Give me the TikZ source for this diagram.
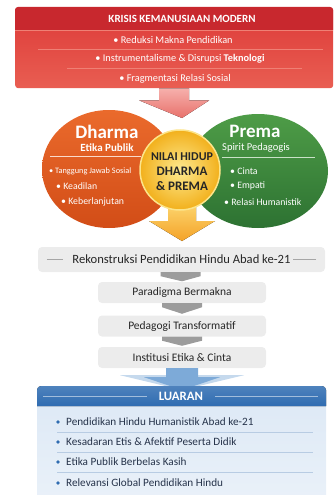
\documentclass[tikz,border=0pt]{standalone}
\usepackage{fontspec}
\setmainfont{Carlito}
\usetikzlibrary{calc}
\usetikzlibrary{shapes.geometric}

\definecolor{krisisdark}{HTML}{C8282E}
\definecolor{krisistop}{HTML}{DD3A38}
\definecolor{krisisbot}{HTML}{E95E52}
\definecolor{krisisline}{HTML}{EF8075}
\definecolor{pinktop}{HTML}{F6B0AC}
\definecolor{pinkbot}{HTML}{E8716B}
\definecolor{dharmatop}{HTML}{EA6A2C}
\definecolor{dharmabot}{HTML}{D24D17}
\definecolor{prematop}{HTML}{4E9C47}
\definecolor{premabot}{HTML}{2D7232}
\definecolor{nilaiin}{HTML}{FDEA90}
\definecolor{nilaiout}{HTML}{F2B01C}
\definecolor{nilairing}{HTML}{FCE48A}
\definecolor{goldtop}{HTML}{FCD46C}
\definecolor{goldbot}{HTML}{F4A228}
\definecolor{stepgray}{HTML}{ECECEC}
\definecolor{steptext}{HTML}{262626}
\definecolor{stepline}{HTML}{A6A6A6}
\definecolor{chevgray}{HTML}{9C9C9C}
\definecolor{luaranhead}{HTML}{2F6CB1}
\definecolor{luaranbody}{HTML}{DCE8F5}
\definecolor{luaranline}{HTML}{B8CCE3}
\definecolor{luarantext}{HTML}{26334A}
\definecolor{bluearrow}{HTML}{7DAAD8}

\begin{document}
\begin{tikzpicture}[x=1pt,y=-1pt,
  whitetext/.style={text=white,inner sep=0pt},
  redbullet/.style={whitetext,font=\fontsize{10.3}{11}\selectfont},
  pointtext/.style={whitetext,anchor=west,font=\fontsize{9.8}{11}\selectfont},
  stepbox/.style={rectangle,rounded corners=4pt,fill=stepgray,text=steptext,
    minimum width=168pt,minimum height=21pt,font=\fontsize{11.5}{13}\selectfont},
  luaranitem/.style={anchor=west,text=luarantext,inner sep=0pt,font=\fontsize{11.2}{13}\selectfont}]
\useasboundingbox (0,0) rectangle (335,495);

% krisis box
\node (krisis) [rectangle,rounded corners=3pt,top color=krisistop,bottom color=krisisbot,
  minimum width=318pt,minimum height=81pt,anchor=north west] at (15,7) {};
\fill[krisisdark] (15,30) [rounded corners=3pt] -- (15,7) -- (333,7) [sharp corners] -- (333,30) -- cycle;
\draw[krisisline,line width=0.4pt] (15,30) -- (333,30);
\draw[krisisline,line width=0.4pt] (38,49.5) -- (323,49.5) (67,68.5) -- (302,68.5);
\node (krisistitle) [whitetext,font=\bfseries\fontsize{11}{12}\selectfont] at (182,19) {KRISIS KEMANUSIAAN MODERN};
\node (reduksi) [redbullet] at (173,40) {\textbullet\ Reduksi Makna Pendidikan};
\node (instrumen) [redbullet] at (180,59) {\textbullet\ Instrumentalisme \& Disrupsi \textbf{Teknologi}};
\node (fragmen) [redbullet] at (175,78.5) {\textbullet\ Fragmentasi Relasi Sosial};

% arrows behind the circles
\coordinate (redtip) at (182,118);
\fill[top color=pinktop,bottom color=pinkbot]
  ($(krisis.south)+(-15,0)$) -- ($(krisis.south)+(15,0)$) -- ($(krisis.south)+(15,12)$)
  -- ($(krisis.south)+(35,12)$) -- (redtip) -- ($(krisis.south)+(-35,12)$)
  -- ($(krisis.south)+(-15,12)$) -- cycle;
\coordinate (goldtip) at (182,241);
\fill[top color=goldtop,bottom color=goldbot]
  ($(goldtip)+(-14,-36)$) -- ($(goldtip)+(14,-36)$) -- ($(goldtip)+(14,-20)$)
  -- ($(goldtip)+(33,-20)$) -- (goldtip) -- ($(goldtip)+(-33,-20)$)
  -- ($(goldtip)+(-14,-20)$) -- cycle;

% dharma & prema
\node (dharma) [ellipse,top color=dharmatop,bottom color=dharmabot,
  minimum width=134pt,minimum height=118pt] at (109,169) {};
\node (prema) [ellipse,top color=prematop,bottom color=premabot,
  minimum width=140pt,minimum height=114pt] at (258,171) {};
\node (dharmatitle) [whitetext,font=\bfseries\fontsize{19}{20}\selectfont] at (107,132) {Dharma};
\node (dharmasub) [whitetext,font=\bfseries\fontsize{11}{12}\selectfont] at (107,147.5) {Etika Publik};
\draw[white!75!dharmatop,line width=0.5pt] (50,156.5) -- (141,156.5);
\node (tanggung) [pointtext,font=\fontsize{8.3}{9}\selectfont] at (49,171) {\textbullet\ Tanggung Jawab Sosial};
\node (keadilan) [pointtext] at (56,186) {\textbullet\ Keadilan};
\node (lanjut) [pointtext] at (61,202) {\textbullet\ Keberlanjutan};
\node (prematitle) [whitetext,font=\bfseries\fontsize{19}{20}\selectfont] at (255,131) {Prema};
\node (premasub) [whitetext,font=\fontsize{10.5}{12}\selectfont] at (256,147.5) {Spirit Pedagogis};
\draw[white!70!prematop,line width=0.5pt] (222,157) -- (315,157);
\node (cinta) [pointtext] at (230,171) {\textbullet\ Cinta};
\node (empati) [pointtext] at (230,186) {\textbullet\ Empati};
\node (relasi) [pointtext] at (224,202) {\textbullet\ Relasi Humanistik};

% nilai hidup
\node (nilai) [circle,inner color=nilaiin,outer color=nilaiout,draw=nilairing,line width=1.5pt,
  minimum size=80pt] at (180,170) {};
\node (nilaitext) [text=steptext,align=center,font=\bfseries\fontsize{12}{15}\selectfont] at (182,172)
  {NILAI HIDUP\\{\fontsize{13}{15}\selectfont DHARMA}\\{\fontsize{13}{15}\selectfont \& PREMA}};

% steps
\node (rekon) [stepbox,minimum width=287pt,minimum height=25pt,font=\fontsize{12.6}{14}\selectfont]
  at (181.5,259.5) {Rekonstruksi Pendidikan Hindu Abad ke-21};
\draw[stepline,line width=0.5pt] ($(rekon.west)+(9,0)$) -- ($(rekon.west)+(25,0)$);
\draw[stepline,line width=0.5pt] ($(rekon.east)+(-9,0)$) -- ($(rekon.east)+(-32,0)$);
\node (paradigma) [stepbox] at (182,292.5) {Paradigma Bermakna};
\node (pedagogi) [stepbox] at (182,326) {Pedagogi Transformatif};
\node (institusi) [stepbox] at (182,357.5) {Institusi Etika \& Cinta};

\fill[chevgray] ($(rekon.south)+(-21,0)$) -- ($(rekon.south)+(19,0)$) -- ($(rekon.south)+(19,4)$)
  -- ($(paradigma.north)+(0,-0.5)$) -- ($(rekon.south)+(-21,4)$) -- cycle;
\fill[chevgray] ($(paradigma.south)+(-20,0)$) -- ($(paradigma.south)+(20,0)$) -- ($(paradigma.south)+(20,4)$)
  -- ($(pedagogi.north)+(0,-1.5)$) -- ($(paradigma.south)+(-20,4)$) -- cycle;
\fill[chevgray] ($(pedagogi.south)+(-20,0)$) -- ($(pedagogi.south)+(20,0)$) -- ($(pedagogi.south)+(20,4)$)
  -- ($(institusi.north)+(0,-1)$) -- ($(pedagogi.south)+(-20,4)$) -- cycle;

% luaran
\coordinate (bluetip) at (182,390);
\fill[bluearrow!45!white] ($(institusi.south)+(-62,7)$) -- ($(institusi.south)+(62,7)$) -- (bluetip) -- cycle;
\fill[bluearrow] ($(institusi.south)+(-16,0)$) -- ($(institusi.south)+(16,0)$) -- ($(institusi.south)+(16,9)$)
  -- ($(institusi.south)+(38,9)$) -- (bluetip) -- ($(institusi.south)+(-38,9)$)
  -- ($(institusi.south)+(-16,9)$) -- cycle;
\node (luaran) [rectangle,rounded corners=4pt,top color=luaranbody,bottom color=luaranbody!60!white,
  minimum width=289pt,minimum height=118pt,anchor=north west] at (37,386) {};
\fill[top color=luaranhead!85!white,bottom color=luaranhead] (37,406) [rounded corners=4pt] -- (37,386)
  -- (326,386) [sharp corners] -- (326,406) -- cycle;
\draw[luaranhead!45!white,line width=0.5pt] (43,396) -- (147,396) (215,396) -- (318,396);
\node (luarantitle) [whitetext,font=\bfseries\fontsize{12.8}{14}\selectfont] at (181,396) {LUARAN};
\foreach \y/\txt in {422/Pendidikan Hindu Humanistik Abad ke-21,
    442/Kesadaran Etis \& Afektif Peserta Didik,
    462/Etika Publik Berbelas Kasih,
    483/Relevansi Global Pendidikan Hindu} {
  \fill[luaranhead] (58,\y) circle (1.8pt);
  \node[luaranitem] at (66,\y) {\txt};
}
\draw[luaranline,line width=0.5pt] (57,432) -- (313,432) (57,452) -- (313,452) (57,472) -- (313,472);
\end{tikzpicture}
\end{document}
